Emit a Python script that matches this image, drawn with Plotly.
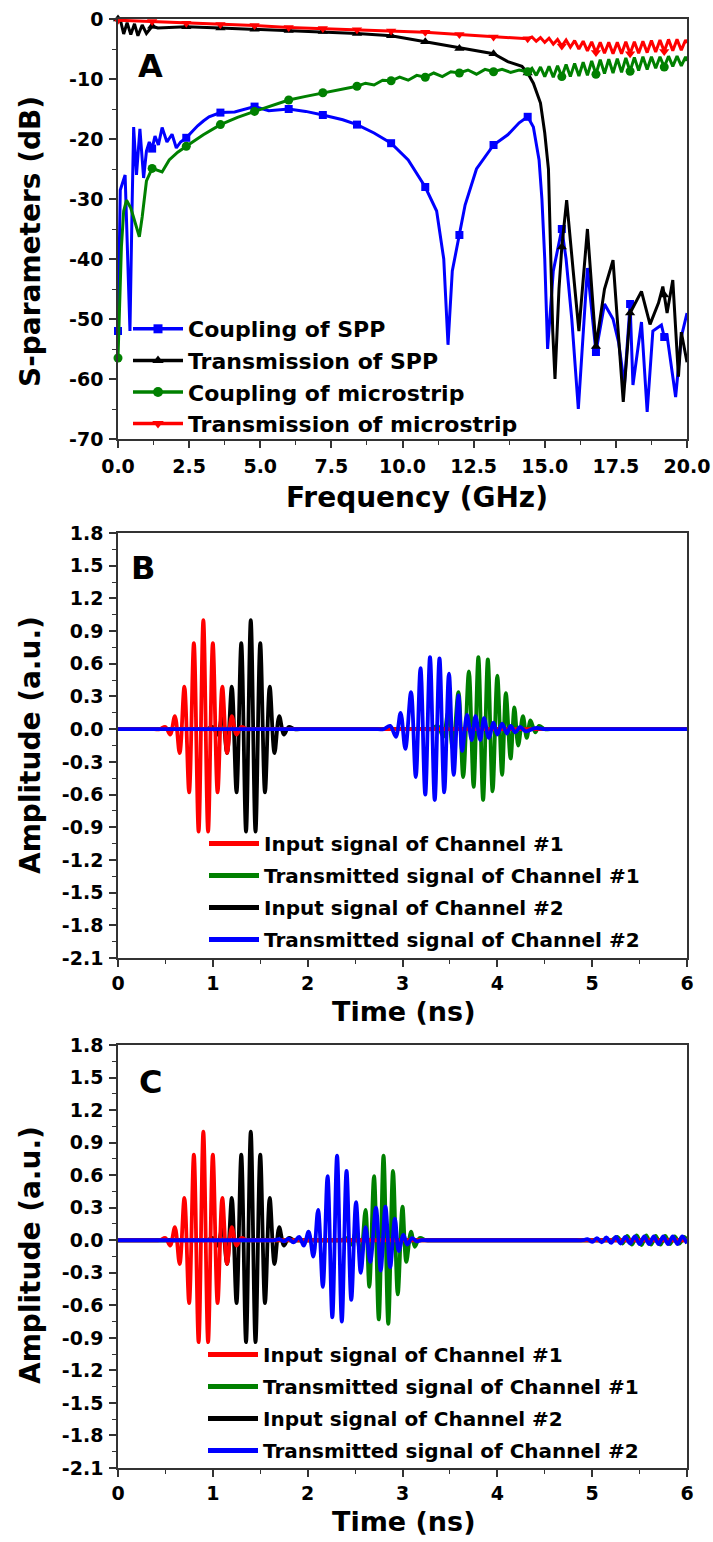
import plotly.graph_objects as go

W, H = 713, 1542
FONT = "DejaVu Sans"
AX = "#333333"

# ---------------- Panel A data (frequency in GHz, S-parameters in dB) ----------------
marker_f = [0.0, 1.2, 2.4, 3.6, 4.8, 6.0, 7.2, 8.4, 9.6, 10.8, 12.0, 13.2, 14.4, 15.6, 16.8, 18.0, 19.2]

spp_coup_f = [0.0, 0.08, 0.25, 0.35, 0.42, 0.5, 0.55, 0.65, 0.77, 0.9, 1.0, 1.1, 1.2, 1.3, 1.42,
              1.55, 1.72, 1.9, 2.05, 2.2, 2.4, 2.6, 2.8, 3.0, 3.2, 3.6, 4.1, 4.8, 5.3, 6.0, 6.6, 7.2,
              7.9, 8.4, 9.0, 9.6, 10.2, 10.8, 11.2, 11.45, 11.6, 11.75, 12.0, 12.2, 12.6, 13.2, 13.7,
              14.1, 14.4, 14.6, 14.8, 14.9, 15.0, 15.1, 15.3, 15.6, 15.75, 15.95, 16.18, 16.5, 16.8,
              17.1, 17.4, 17.6, 17.8, 18.0, 18.1, 18.4, 18.6, 18.8, 19.1, 19.2, 19.3, 19.6, 19.8, 20.0]
spp_coup_db = [-52, -28.5, -26, -40, -52, -30, -18, -26, -18.3, -26.5, -22, -20.5, -21.6, -19.5, -21,
               -18.1, -20.5, -19.2, -21.5, -20.5, -19.8, -18.8, -17.8, -17, -16.3, -15.6, -15.5, -14.6,
               -15.3, -15, -15.4, -16, -16.8, -17.6, -19, -20.7, -23.5, -28, -32, -40, -54.3, -42, -36,
               -31, -25, -21, -19.3, -17.3, -16.3, -18, -23.5, -30, -40, -55, -42, -35, -40, -50, -65,
               -41.5, -55.5, -47.5, -50, -54, -61, -47.5, -61, -50.5, -65.5, -52, -51, -53, -52.8, -63,
               -53, -49]

spp_tran_f = [0.0, 0.1, 0.2, 0.32, 0.45, 0.58, 0.7, 0.85, 1.0, 1.2, 1.4, 2.4, 3.6, 4.8, 6.0, 7.2, 8.4,
              9.6, 10.8, 12.0, 13.2, 13.7, 14.2, 14.4, 14.6, 14.85, 15.0, 15.13, 15.2, 15.28, 15.36,
              15.5, 15.6, 15.77, 16.0, 16.2, 16.5, 16.8, 17.1, 17.4, 17.76, 18.0, 18.4, 18.7, 19.0,
              19.15, 19.2, 19.3, 19.5, 19.7, 19.8, 20.0]
spp_tran_db = [0, -0.5, -2.5, -0.6, -2.6, -0.8, -2.8, -1.0, -2.4, -1.2, -1.5, -1.3, -1.5, -1.7, -1.9,
               -2.1, -2.4, -2.8, -3.8, -4.9, -5.8, -7.1, -7.9, -9.0, -10.7, -14.0, -19.0, -25.0, -40.0,
               -52.0, -60.0, -45.0, -38.0, -30.2, -42.0, -52.0, -35.0, -54.6, -45.0, -40.2, -63.8,
               -49.0, -45.4, -50.9, -47.3, -44.6, -46.0, -49.0, -43.5, -59.6, -52.2, -57.2]

ms_coup_f = [0.0, 0.05, 0.12, 0.2, 0.3, 0.45, 0.6, 0.75, 0.85, 1.0, 1.2, 1.4, 1.55, 1.8, 2.1, 2.4, 3.0,
             3.6, 4.2, 4.8, 5.4, 6.0, 6.6, 7.2, 7.8, 8.4, 8.7, 9.0, 9.3, 9.6, 9.9, 10.2, 10.5, 10.8,
             11.1, 11.4, 11.7, 12.0, 12.3, 12.6, 12.9, 13.2, 13.5, 13.8, 14.1, 14.4, 14.55, 14.7,
             14.85, 15.0, 15.15, 15.3, 15.45, 15.6, 15.75, 15.9, 16.05, 16.2, 16.35, 16.5, 16.65,
             16.8, 16.95, 17.1, 17.25, 17.4, 17.55, 17.7, 17.85, 18.0, 18.15, 18.3, 18.45, 18.6,
             18.75, 18.9, 19.05, 19.2, 19.35, 19.5, 19.65, 19.8, 19.95, 20.0]
ms_coup_db = [-56.5, -48, -38, -32, -30.2, -31.5, -34, -36.3, -33, -27, -24.9, -25.3, -25.5, -23.5,
              -22.2, -21.2, -19.3, -17.6, -16.4, -15.4, -14.4, -13.5, -12.9, -12.3, -11.7, -11.2,
              -10.7, -11.0, -10.2, -10.3, -9.7, -10.2, -9.4, -9.7, -9.0, -9.6, -8.8, -9.0, -8.5, -9.2,
              -8.4, -8.8, -8.4, -8.9, -8.5, -8.8, -8.2, -9.4, -8.0, -9.6, -7.9, -9.7, -7.8, -9.6,
              -7.6, -9.6, -7.4, -9.5, -7.2, -9.4, -7.0, -9.2, -6.8, -9.1, -6.7, -9.0, -6.6, -8.9,
              -6.5, -8.7, -6.4, -8.6, -6.3, -8.4, -6.3, -8.2, -6.3, -8.0, -6.2, -7.9, -6.2, -7.8,
              -6.3, -7.0]

ms_tran_f = [0.0, 1.2, 2.4, 3.6, 4.8, 6.0, 7.2, 8.4, 9.6, 10.8, 12.0, 13.2, 14.0, 14.4, 14.55, 14.7,
             14.85, 15.0, 15.15, 15.3, 15.45, 15.6, 15.75, 15.9, 16.05, 16.2, 16.35, 16.5, 16.65,
             16.8, 16.95, 17.1, 17.25, 17.4, 17.55, 17.7, 17.85, 18.0, 18.15, 18.3, 18.45, 18.6,
             18.75, 18.9, 19.05, 19.2, 19.35, 19.5, 19.65, 19.8, 19.95, 20.0]
ms_tran_db = [-0.2, -0.4, -0.7, -0.9, -1.1, -1.4, -1.6, -1.8, -2.0, -2.2, -2.6, -3.0, -3.2, -3.3,
              -3.0, -3.7, -3.1, -3.9, -3.2, -4.2, -3.4, -4.5, -3.5, -4.7, -3.6, -5.0, -3.7, -5.3,
              -3.8, -5.6, -3.9, -5.7, -3.9, -5.8, -3.9, -5.8, -3.8, -5.8, -3.8, -5.7, -3.7, -5.6,
              -3.6, -5.5, -3.5, -5.4, -3.4, -5.3, -3.4, -5.2, -3.5, -4.0]

a_xticks = [0, 2.5, 5, 7.5, 10, 12.5, 15, 17.5, 20]
a_xlabels = ["0.0", "2.5", "5.0", "7.5", "10.0", "12.5", "15.0", "17.5", "20.0"]
a_yticks = [0, -10, -20, -30, -40, -50, -60, -70]
a_ylabels = ["0", "-10", "-20", "-30", "-40", "-50", "-60", "-70"]

# ---------------- Panels B and C data (time in ns, amplitude in a.u.) ----------------
input_amp = [0, 0, 0, 0.02, -0.05, 0.12, -0.22, 0.39, -0.58, 0.79, -0.94, 1.0, -0.94, 0.79, -0.58,
             0.39, -0.22, 0.12, -0.05, 0.02, 0, 0, 0]
in1_t = [0.0, 0.38, 0.44, 0.5, 0.55, 0.6, 0.65, 0.7, 0.75, 0.8, 0.85, 0.9, 0.95, 1.0, 1.05, 1.1,
         1.15, 1.2, 1.25, 1.3, 1.36, 1.42, 6.0]
in2_t = [0.0, 0.88, 0.94, 1.0, 1.05, 1.1, 1.15, 1.2, 1.25, 1.3, 1.35, 1.4, 1.45, 1.5, 1.55, 1.6,
         1.65, 1.7, 1.75, 1.8, 1.86, 1.92, 6.0]

b_tr1_t = [0.0, 3.24, 3.3, 3.37, 3.43, 3.48, 3.53, 3.59, 3.64, 3.70, 3.75, 3.80, 3.85, 3.90, 3.95,
           4.00, 4.05, 4.09, 4.14, 4.18, 4.22, 4.27, 4.31, 4.35, 4.40, 4.44, 4.50, 4.56, 6.0]
b_tr1_a = [0, 0, 0, 0.03, -0.07, 0.15, -0.18, 0.34, -0.44, 0.53, -0.53, 0.66, -0.65, 0.64, -0.57,
           0.49, -0.42, 0.33, -0.27, 0.20, -0.15, 0.12, -0.08, 0.08, -0.03, 0.03, 0, 0, 0]

b_tr2_t = [0.0, 2.74, 2.8, 2.87, 2.93, 2.98, 3.03, 3.09, 3.14, 3.19, 3.24, 3.29, 3.34, 3.39, 3.44,
           3.49, 3.54, 3.59, 3.63, 3.68, 3.73, 3.77, 3.82, 3.86, 3.91, 3.96, 4.0, 4.05, 4.1, 4.14,
           4.19, 4.24, 4.3, 4.4, 4.5, 4.56, 6.0]
b_tr2_a = [0, 0, 0, 0.03, -0.07, 0.15, -0.18, 0.34, -0.44, 0.56, -0.6, 0.66, -0.65, 0.65, -0.58,
           0.51, -0.42, 0.31, -0.2, 0.13, -0.1, 0.12, -0.1, 0.1, -0.08, 0.06, -0.05, 0.05, -0.04,
           0.03, -0.03, 0.02, -0.02, 0.01, 0, 0, 0]

c_tr1_t = [0.0, 2.3, 2.36, 2.41, 2.46, 2.51, 2.56, 2.61, 2.65, 2.70, 2.75, 2.80, 2.85, 2.90, 2.95,
           3.00, 3.04, 3.09, 3.13, 3.18, 3.25, 3.31, 5.14, 5.2, 5.27, 5.32, 5.37, 5.42, 5.47, 5.52,
           5.57, 5.62, 5.67, 5.72, 5.77, 5.82, 5.87, 5.92, 5.97, 6.0]
c_tr1_a = [0, 0, 0, 0.02, -0.04, 0.08, -0.15, 0.28, -0.43, 0.59, -0.73, 0.78, -0.77, 0.64, -0.5,
           0.31, -0.2, 0.08, -0.06, 0.02, 0, 0, 0, 0, 0.03, -0.03, 0.04, -0.04, 0.045, -0.045,
           0.045, -0.04, 0.04, -0.04, 0.04, -0.035, 0.035, -0.03, 0.03, 0]

c_tr2_t = [0.0, 1.6, 1.65, 1.7, 1.75, 1.8, 1.85, 1.91, 1.96, 2.01, 2.06, 2.11, 2.16, 2.21, 2.26,
           2.31, 2.36, 2.41, 2.46, 2.51, 2.56, 2.61, 2.66, 2.72, 2.77, 2.82, 2.87, 2.92, 2.96, 3.01,
           3.05, 3.1, 3.15, 3.2, 3.26, 4.84, 4.9, 4.95, 5.0, 5.05, 5.1, 5.15, 5.2, 5.25, 5.3, 5.35,
           5.4, 5.45, 5.5, 5.55, 5.6, 5.65, 5.7, 5.75, 5.8, 5.85, 5.9, 5.95, 6.0]
c_tr2_a = [0, 0, 0, 0.01, -0.01, 0.015, -0.02, 0.03, -0.05, 0.08, -0.15, 0.28, -0.43, 0.59, -0.71,
           0.78, -0.75, 0.64, -0.55, 0.35, -0.3, 0.12, -0.2, 0.3, -0.28, 0.31, -0.25, 0.2, -0.1,
           0.05, -0.04, 0.02, -0.01, 0, 0, 0, 0, 0.01, -0.015, 0.02, -0.02, 0.025, -0.025, 0.03,
           -0.03, 0.03, -0.03, 0.035, -0.035, 0.035, -0.035, 0.035, -0.035, 0.035, -0.035, 0.035,
           -0.035, 0.035, -0.03]

bc_xticks = [0, 1, 2, 3, 4, 5, 6]
bc_xlabels = ["0", "1", "2", "3", "4", "5", "6"]
bc_yticks = [1.8, 1.5, 1.2, 0.9, 0.6, 0.3, 0.0, -0.3, -0.6, -0.9, -1.2, -1.5, -1.8, -2.1]
bc_ylabels = ["1.8", "1.5", "1.2", "0.9", "0.6", "0.3", "0.0", "-0.3", "-0.6", "-0.9", "-1.2",
              "-1.5", "-1.8", "-2.1"]

RED, GREEN, BLACK, BLUE = "#ff0000", "#008000", "#000000", "#0000ff"


def px_x(x):
    return x / W


def px_y(y):
    return 1 - y / H


fig = go.Figure()

# ---------------- Panel A ----------------
a_series = [
    (spp_coup_f, spp_coup_db, BLUE, "square", 8, "Coupling of SPP"),
    (spp_tran_f, spp_tran_db, BLACK, "triangle-up", 9, "Transmission of SPP"),
    (ms_coup_f, ms_coup_db, GREEN, "circle", 9, "Coupling of microstrip"),
    (ms_tran_f, ms_tran_db, RED, "triangle-down", 9, "Transmission of microstrip"),
]
for f, db, col, sym, ms, name in a_series:
    fig.add_trace(go.Scatter(x=f, y=db, mode="lines", line=dict(color=col, width=3),
                             xaxis="x", yaxis="y", showlegend=False, hoverinfo="skip"))
    mf = [v for v in f if v in marker_f]
    mdb = [d for v, d in zip(f, db) if v in marker_f]
    fig.add_trace(go.Scatter(x=mf, y=mdb, mode="markers",
                             marker=dict(color=col, symbol=sym, size=ms, line=dict(width=0)),
                             xaxis="x", yaxis="y", showlegend=False, hoverinfo="skip",
                             cliponaxis=False))
for f, db, col, sym, ms, name in a_series:
    fig.add_trace(go.Scatter(x=[None], y=[None], mode="lines+markers", name=name,
                             line=dict(color=col, width=3.5),
                             marker=dict(color=col, symbol=sym, size=ms + 1),
                             xaxis="x", yaxis="y", legend="legend"))


# ---------------- Panels B and C ----------------
def add_wave_panel(xa, ya, lg, tr1_t, tr1_a, tr2_t, tr2_a):
    draw = [
        (in2_t, input_amp, BLACK),
        (tr1_t, tr1_a, GREEN),
        (in1_t, input_amp, RED),
        (tr2_t, tr2_a, BLUE),
    ]
    for t, a, col in draw:
        fig.add_trace(go.Scatter(x=t, y=a, mode="lines",
                                 line=dict(color=col, width=3.8, shape="spline", smoothing=1.0),
                                 xaxis=xa, yaxis=ya, showlegend=False, hoverinfo="skip"))
    entries = [
        ("Input signal of Channel #1", RED),
        ("Transmitted signal of Channel #1", GREEN),
        ("Input signal of Channel #2", BLACK),
        ("Transmitted signal of Channel #2", BLUE),
    ]
    for i, (name, col) in enumerate(entries):
        fig.add_trace(go.Scatter(x=[None], y=[None], mode="lines", name=name,
                                 line=dict(color=col, width=5), legendgroup=f"{lg}g{i}",
                                 xaxis=xa, yaxis=ya, legend=lg))


add_wave_panel("x2", "y2", "legend2", b_tr1_t, b_tr1_a, b_tr2_t, b_tr2_a)
add_wave_panel("x3", "y3", "legend3", c_tr1_t, c_tr1_a, c_tr2_t, c_tr2_a)

tickfont = dict(family=FONT, size=19, color="black", weight="bold")


def xaxis_cfg(anchor, rng, tv, tt, minor_dt, standoff):
    return dict(domain=[px_x(118), px_x(687)], anchor=anchor, range=rng, automargin=False,
                tickmode="array", tickvals=tv, ticktext=tt,
                showline=True, mirror=True, linecolor=AX, linewidth=1.6,
                ticks="outside", ticklen=7, tickwidth=1.6, tickcolor=AX,
                minor=dict(dtick=minor_dt, tick0=0, ticks="outside", ticklen=4,
                           tickwidth=1.4, tickcolor=AX),
                showgrid=False, zeroline=False, tickfont=tickfont, ticklabelstandoff=standoff)


def yaxis_cfg(anchor, top, bottom, rng, tv, tt, minor_dt, tick0):
    return dict(domain=[px_y(bottom), px_y(top)], anchor=anchor, range=rng, automargin=False,
                tickmode="array", tickvals=tv, ticktext=tt,
                showline=True, mirror=True, linecolor=AX, linewidth=1.6,
                ticks="outside", ticklen=7, tickwidth=1.6, tickcolor=AX,
                minor=dict(dtick=minor_dt, tick0=tick0, ticks="outside", ticklen=4,
                           tickwidth=1.4, tickcolor=AX),
                showgrid=False, zeroline=False, tickfont=tickfont, ticklabelstandoff=2)


def legend_cfg(left, top, size, gap, order):
    return dict(x=px_x(left), y=px_y(top), xanchor="left", yanchor="top",
                bgcolor="rgba(0,0,0,0)", borderwidth=0,
                font=dict(family=FONT, size=size, color="black", weight="bold"),
                itemwidth=50, tracegroupgap=gap, traceorder=order)


def title_ann(text, x, y, size, angle=0):
    return dict(text=text, x=px_x(x), y=px_y(y), xref="paper", yref="paper",
                showarrow=False, textangle=angle, xanchor="center", yanchor="middle",
                font=dict(family=FONT, size=size, color="black", weight="bold"))


fig.update_layout(
    width=W, height=H, margin=dict(l=0, r=0, t=0, b=0, autoexpand=False),
    paper_bgcolor="white", plot_bgcolor="white",
    xaxis=xaxis_cfg("y", [0, 20], a_xticks, a_xlabels, 1.25, 2),
    yaxis=yaxis_cfg("x", 19, 439, [-70, 0], a_yticks, a_ylabels, 5, 0),
    xaxis2=xaxis_cfg("y2", [0, 6], bc_xticks, bc_xlabels, 0.5, 0),
    yaxis2=yaxis_cfg("x2", 533, 958, [-2.1, 1.8], bc_yticks, bc_ylabels, 0.15, 0),
    xaxis3=xaxis_cfg("y3", [0, 6], bc_xticks, bc_xlabels, 0.5, 0),
    yaxis3=yaxis_cfg("x3", 1045, 1468, [-2.1, 1.8], bc_yticks, bc_ylabels, 0.15, 0),
    legend=legend_cfg(128, 308, 22, 0, "normal"),
    legend2=legend_cfg(204, 824, 20, 3, "grouped"),
    legend3=legend_cfg(203, 1335, 20, 3, "grouped"),
    annotations=[
        title_ann("S-parameters (dB)", 30, 242, 28, -90),
        title_ann("Frequency (GHz)", 417, 498, 28),
        title_ann("Amplitude (a.u.)", 30, 745, 28, -90),
        title_ann("Time (ns)", 404, 1011, 27),
        title_ann("Amplitude (a.u.)", 30, 1255, 28, -90),
        title_ann("Time (ns)", 404, 1521, 27),
        title_ann("A", 150, 66, 32),
        title_ann("B", 143, 568, 32),
        title_ann("C", 150, 1082, 32),
    ],
)

fig.write_html("out.html")
